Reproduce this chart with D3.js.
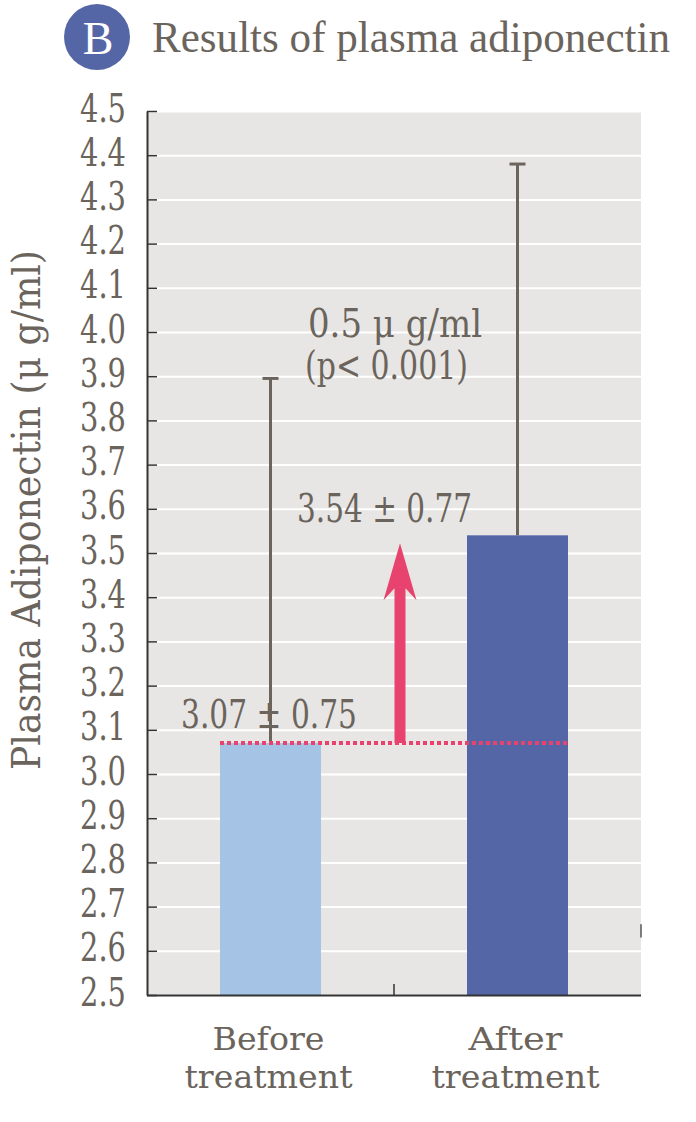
<!DOCTYPE html>
<html>
<head>
<meta charset="utf-8">
<title>Results of plasma adiponectin</title>
<script src="https://d3js.org/d3.v7.min.js"></script>
<style>
  body { margin: 0; background: #fff; }
  text { font-family: "DejaVu Serif", "Liberation Serif", serif; fill: #6b645c; }
</style>
</head>
<body>
<div id="chart"></div>
<script>
// data
var categories = ["Before treatment", "After treatment"];
var catLines = [["Before", "treatment"], ["After", "treatment"]];
var means = [3.07, 3.54];
var errTop = [3.895, 4.38];          // drawn tops of the error bars
var meanLabels = ["3.07 \u00b1 0.75", "3.54 \u00b1 0.77"];
var yTicks = d3.range(2.5, 4.501, 0.1);
var barColors = ["#a4c3e5", "#5566a6"];

var W = 696, H = 1122;
var margin = {top: 111, left: 147, right: 55, bottom: 127};
var width = W - margin.left - margin.right,     // 494
    height = H - margin.top - margin.bottom;    // 884

var svg = d3.select("#chart").append("svg")
    .attr("width", W).attr("height", H);

// title badge
svg.append("circle").attr("cx", 97).attr("cy", 37).attr("r", 33).attr("fill", "#5566a6");
svg.append("text").attr("x", 98).attr("y", 54).attr("text-anchor", "middle")
    .style("fill", "#fff").style("font-size", "46px").style("font-family", "Liberation Serif").text("B");
svg.append("text").attr("x", 152).attr("y", 52)
    .attr("textLength", 518).attr("lengthAdjust", "spacingAndGlyphs")
    .style("font-family", "Liberation Serif")
    .style("font-size", "44px").text("Results of plasma adiponectin");

var g = svg.append("g").attr("transform", "translate(" + margin.left + "," + margin.top + ")");

var y = d3.scaleLinear().domain([2.5, 4.5]).range([height, 0]);
var x = d3.scalePoint().domain(categories).range([0, width]).padding(0.5);
var barW = 101;

// plot background
g.append("rect").attr("width", width).attr("height", height).attr("fill", "#e8e6e4");

// white gridlines
g.append("g")
    .call(d3.axisLeft(y).tickValues(yTicks).tickSize(-width).tickFormat(""))
    .call(function(a) {
      a.select(".domain").remove();
      a.selectAll("line").attr("stroke", "#fff").attr("stroke-width", 2);
    });

// bars
g.selectAll(".bar").data(means).enter().append("rect")
    .attr("x", function(d, i) { return x(categories[i]) - barW / 2; })
    .attr("y", function(d) { return y(d); })
    .attr("width", barW)
    .attr("height", function(d) { return height - y(d); })
    .attr("fill", function(d, i) { return barColors[i]; });

// error bars
var eb = g.selectAll(".err").data(means).enter().append("g").attr("class", "err");
eb.append("line")
    .attr("x1", function(d, i) { return x(categories[i]); })
    .attr("x2", function(d, i) { return x(categories[i]); })
    .attr("y1", function(d) { return y(d); })
    .attr("y2", function(d, i) { return y(errTop[i]); })
    .attr("stroke", "#6b645c").attr("stroke-width", 3);
eb.append("line")
    .attr("x1", function(d, i) { return x(categories[i]) - 8; })
    .attr("x2", function(d, i) { return x(categories[i]) + 8; })
    .attr("y1", function(d, i) { return y(errTop[i]); })
    .attr("y2", function(d, i) { return y(errTop[i]); })
    .attr("stroke", "#6b645c").attr("stroke-width", 3);

// dotted reference line at the "before" mean
g.append("line")
    .attr("x1", x(categories[0]) - barW / 2)
    .attr("x2", x(categories[1]) + barW / 2 + 2)
    .attr("y1", y(means[0])).attr("y2", y(means[0]))
    .attr("stroke", "#e8426f").attr("stroke-width", 4)
    .attr("stroke-dasharray", "4,3");

// arrow showing the increase
var ax = (x(categories[0]) + x(categories[1])) / 2 + 6;
var yb = y(means[0]), yt = y(means[1]) + 8;
g.append("path")
    .attr("d", "M" + (ax - 5.5) + "," + yb + "V" + (yt + 45) +
               "L" + (ax - 16.5) + "," + (yt + 57) +
               "L" + ax + "," + yt +
               "L" + (ax + 16.5) + "," + (yt + 57) +
               "L" + (ax + 5.5) + "," + (yt + 45) +
               "V" + yb + "Z")
    .attr("fill", "#e8426f");

// y axis: line, inner ticks, labels
g.append("g")
    .call(d3.axisLeft(y).tickValues(yTicks).tickSize(-10).tickSizeOuter(0).tickPadding(21)
      .tickFormat(d3.format(".1f")))
    .call(function(a) {
      a.select(".domain").attr("stroke", "#333").attr("stroke-width", 2);
      a.selectAll("line").attr("stroke", "#333").attr("stroke-width", 1.5);
      a.selectAll("text")
          .attr("dy", 10)
          .attr("textLength", 46).attr("lengthAdjust", "spacingAndGlyphs")
          .style("font-size", "40px").style("font-family", null).style("fill", "#6b645c");
    });

// x axis: bottom line and tick between groups
g.append("line").attr("x1", 0).attr("x2", width).attr("y1", height + 0.5).attr("y2", height + 0.5)
    .attr("stroke", "#333").attr("stroke-width", 2);
g.append("line").attr("x1", width / 2).attr("x2", width / 2).attr("y1", height).attr("y2", height - 11)
    .attr("stroke", "#333").attr("stroke-width", 1.5);
g.append("line").attr("x1", width).attr("x2", width).attr("y1", y(2.66)).attr("y2", y(2.63))
    .attr("stroke", "#555").attr("stroke-width", 1.5);

// category labels
catLines.forEach(function(lines, i) {
  var cx = margin.left + x(categories[i]) - 2;
  svg.append("text").attr("text-anchor", "middle").style("font-size", "32px")
      .attr("x", cx).attr("y", 1050)
      .attr("textLength", i === 0 ? 112 : 94).attr("lengthAdjust", "spacingAndGlyphs").text(lines[0]);
  svg.append("text").attr("text-anchor", "middle").style("font-size", "32px")
      .attr("x", cx).attr("y", 1088)
      .attr("textLength", 168).attr("lengthAdjust", "spacingAndGlyphs").text(lines[1]);
});

// mean labels
svg.append("text").attr("x", 181).attr("y", 728)
    .attr("textLength", 176).attr("lengthAdjust", "spacingAndGlyphs")
    .style("font-size", "40px").text(meanLabels[0]);
svg.append("text").attr("x", 297).attr("y", 522)
    .attr("textLength", 175).attr("lengthAdjust", "spacingAndGlyphs")
    .style("font-size", "40px").text(meanLabels[1]);

// difference annotation
svg.append("text").attr("x", 308).attr("y", 337)
    .attr("textLength", 174).attr("lengthAdjust", "spacingAndGlyphs")
    .style("font-size", "40px").text("0.5 \u03bc g/ml");
svg.append("text").attr("x", 305).attr("y", 379)
    .attr("textLength", 163).attr("lengthAdjust", "spacingAndGlyphs")
    .style("font-size", "40px").text("(p< 0.001)");

// y axis title
svg.append("text")
    .attr("transform", "translate(40,510) rotate(-90)")
    .attr("text-anchor", "middle")
    .attr("textLength", 520).attr("lengthAdjust", "spacingAndGlyphs")
    .style("font-size", "40px").text("Plasma Adiponectin (\u03bc g/ml)");
</script>
</body>
</html>
